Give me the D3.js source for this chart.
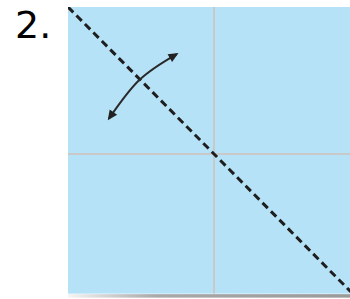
<!DOCTYPE html>
<html>
<head>
<meta charset="utf-8">
<script src="https://cdn.jsdelivr.net/npm/d3@7"></script>
<style>
  html, body { margin: 0; padding: 0; background: #fff; }
</style>
</head>
<body>
<div id="chart"></div>
<script>
// data (unit square, center = 0,0)
const label = "2.";
const xExtent = [-1, 1];
const yExtent = [-0.95, 1];
const gridX = [0];
const gridY = [0];
const foldLine = [[-1, 1], [1, -1]];
const turnArrow = [[-0.72, 0.24], [-0.51, 0.505], [-0.255, 0.68]];

const width = 350, height = 299;
const x = d3.scaleLinear().domain([-1, 1]).range([68, 360]);
const y = d3.scaleLinear().domain([1, -1]).range([7, 301]);

const svg = d3.select("#chart").append("svg")
    .attr("width", width)
    .attr("height", height);

const defs = svg.append("defs");

const grad = defs.append("linearGradient").attr("id", "shadowGrad");
grad.append("stop").attr("offset", "0%").attr("stop-color", "#f4f4f4");
grad.append("stop").attr("offset", "30%").attr("stop-color", "#a9a9a9");
grad.append("stop").attr("offset", "100%").attr("stop-color", "#999999");

defs.append("filter").attr("id", "blur")
  .append("feGaussianBlur").attr("stdDeviation", 0.7);

defs.append("clipPath").attr("id", "sq")
  .append("rect")
    .attr("x", x(xExtent[0]))
    .attr("y", y(yExtent[1]))
    .attr("width", x(xExtent[1]) - x(xExtent[0]))
    .attr("height", y(yExtent[0]) - y(yExtent[1]));

defs.append("marker")
    .attr("id", "head")
    .attr("viewBox", "0 -5 10 10")
    .attr("refX", 8)
    .attr("refY", 0)
    .attr("markerUnits", "userSpaceOnUse")
    .attr("markerWidth", 11)
    .attr("markerHeight", 10)
    .attr("orient", "auto-start-reverse")
  .append("path")
    .attr("fill", "#222")
    .attr("d", "M0,-4.5L10,0L0,4.5Z");

// shadow under the square
svg.append("rect")
    .attr("x", x(xExtent[0]))
    .attr("y", y(yExtent[0]) + 0.5)
    .attr("width", x(xExtent[1]) - x(xExtent[0]))
    .attr("height", 3.5)
    .attr("fill", "url(#shadowGrad)")
    .attr("filter", "url(#blur)");

// square
svg.append("rect")
    .attr("x", x(xExtent[0]))
    .attr("y", y(yExtent[1]))
    .attr("width", x(xExtent[1]) - x(xExtent[0]))
    .attr("height", y(yExtent[0]) - y(yExtent[1]))
    .attr("fill", "#b6e2f8");

const g = svg.append("g").attr("clip-path", "url(#sq)");

g.selectAll(".gx")
  .data(gridX)
  .join("line")
    .attr("class", "gx")
    .attr("x1", d => x(d)).attr("x2", d => x(d))
    .attr("y1", y(yExtent[1])).attr("y2", y(yExtent[0]))
    .attr("stroke", "#c9c9c9")
    .attr("stroke-width", 2);

g.selectAll(".gy")
  .data(gridY)
  .join("line")
    .attr("class", "gy")
    .attr("y1", d => y(d)).attr("y2", d => y(d))
    .attr("x1", x(xExtent[0])).attr("x2", x(xExtent[1]))
    .attr("stroke", "#c9c9c9")
    .attr("stroke-width", 2);

// dashed fold line
g.append("path")
    .datum(foldLine)
    .attr("d", d3.line().x(d => x(d[0])).y(d => y(d[1])))
    .attr("fill", "none")
    .attr("stroke", "#1e1e1e")
    .attr("stroke-width", 3)
    .attr("stroke-dasharray", "7.5,4.5");

// curved double arrow
svg.append("path")
    .datum(turnArrow)
    .attr("d", d3.line().x(d => x(d[0])).y(d => y(d[1])).curve(d3.curveNatural))
    .attr("fill", "none")
    .attr("stroke", "#2a2a2a")
    .attr("stroke-width", 2)
    .attr("marker-start", "url(#head)")
    .attr("marker-end", "url(#head)");

svg.append("text")
    .attr("x", 15)
    .attr("y", 38)
    .attr("font-family", "DejaVu Sans")
    .attr("font-size", 38)
    .attr("fill", "#000")
    .text(label);
</script>
</body>
</html>
